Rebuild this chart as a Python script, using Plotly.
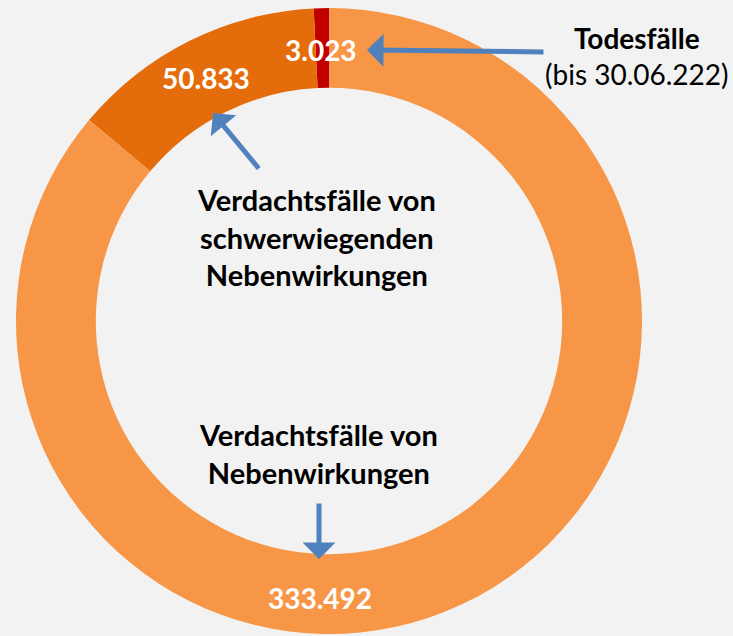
import plotly.graph_objects as go

categories = ["Todesfälle", "Verdachtsfälle von schwerwiegenden Nebenwirkungen", "Verdachtsfälle von Nebenwirkungen"]
values = [3023, 50833, 333492]
colors = ["#C00000", "#E46C0A", "#F79646"]

W, H = 733, 636
FONT = "Lato"
ARROW = "#4F81BD"

def fmt(v):
    return f"{v:,}".replace(",", ".")

def px(x):
    return x / W

def py(y):
    return 1 - y / H

cx, cy, r = 329, 321, 313
first_angle = values[0] / sum(values) * 360

fig = go.Figure(go.Pie(
    labels=categories,
    values=values,
    marker=dict(colors=colors, line=dict(width=0)),
    hole=0.745,
    sort=False,
    direction="counterclockwise",
    rotation=-first_angle,
    textinfo="none",
    hoverinfo="label+value",
    domain=dict(x=[px(cx - r), px(cx + r)], y=[py(cy + r), py(cy - r)]),
))

annotations = []
# value labels
label_pos = [(321, 50), (206, 78), (320, 598)]
for v, (x, y) in zip(values, label_pos):
    annotations.append(dict(x=px(x), y=py(y), xref="paper", yref="paper", text=f"<b>{fmt(v)}</b>",
                            showarrow=False, font=dict(family=FONT, size=28, color="white"),
                            xanchor="center", yanchor="middle"))

# description texts
annotations.append(dict(x=px(637), y=py(56), xref="paper", yref="paper",
                        text="<b>Todesfälle</b><br>(bis 30.06.222)", showarrow=False,
                        font=dict(family=FONT, size=28, color="black"), xanchor="center", yanchor="middle", align="center"))
annotations.append(dict(x=px(316), y=py(237), xref="paper", yref="paper",
                        text="<b>Verdachtsfälle von<br>schwerwiegenden<br>Nebenwirkungen</b>", showarrow=False,
                        font=dict(family=FONT, size=29, color="black"), xanchor="center", yanchor="middle", align="center"))
annotations.append(dict(x=px(318), y=py(453), xref="paper", yref="paper",
                        text="<b>Verdachtsfälle von<br>Nebenwirkungen</b>", showarrow=False,
                        font=dict(family=FONT, size=29, color="black"), xanchor="center", yanchor="middle", align="center"))

# arrows (head, tail)
arrows = [((367, 50), (545, 52)), ((213, 113), (260, 170)), ((319, 559), (319, 502))]
for (hx, hy), (tx, ty) in arrows:
    annotations.append(dict(x=px(hx), y=py(hy), xref="paper", yref="paper", text="",
                            showarrow=True, ax=tx - hx, ay=ty - hy, axref="pixel", ayref="pixel",
                            arrowhead=1, arrowsize=1.1, arrowwidth=5, arrowcolor=ARROW, standoff=0))

fig.update_layout(
    width=W, height=H,
    margin=dict(l=0, r=0, t=0, b=0),
    paper_bgcolor="#F2F2F2",
    plot_bgcolor="#F2F2F2",
    showlegend=False,
    annotations=annotations,
)

fig.write_html("out.html", config={"displayModeBar": False},
               post_script="document.body.style.margin='0';document.body.style.overflow='hidden';")
